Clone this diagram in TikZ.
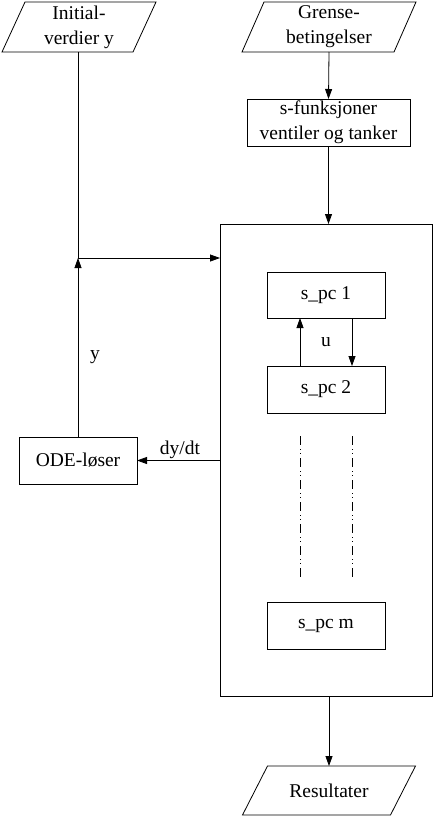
\documentclass[tikz,border=0pt]{standalone}
\usepackage{fontspec}
\setmainfont{Liberation Serif}
\usetikzlibrary{arrows.meta}
\begin{document}
\begin{tikzpicture}[x=1pt,y=-1pt,
  every node/.style={font=\fontsize{19.5}{25}\selectfont, align=center, inner sep=0pt, outer sep=0pt},
  box/.style={draw, line width=0.8pt},
  iobox/.style={},
  conn/.style={line width=0.8pt},
  arr/.style={conn, -{Triangle[length=10pt,width=7pt]}},
  dashdot/.style={line width=0.8pt, dash pattern=on 9pt off 4pt on 1pt off 3pt on 1pt off 4pt}]
\useasboundingbox (0,0) rectangle (433,817);
% input/output parallelograms (text nodes + outlines)
\node[iobox, minimum width=131pt, minimum height=50pt] (init) at (79,27) {Initial-\\verdier y};
\node[iobox, minimum width=152pt, minimum height=50pt] (grense) at (329,27) {Grense-\\betingelser};
\node[iobox, minimum width=148pt, minimum height=49pt] (res) at (329,790.5) {Resultater};
\foreach \n/\s in {init/11.5, grense/11, res/12.5}{
  \draw[conn] ([xshift=-\s pt]\n.south west) -- ([xshift=-\s pt]\n.south east)
    -- ([xshift=\s pt]\n.north east) -- ([xshift=\s pt]\n.north west) -- cycle;
}
% boxes
\node[box, minimum width=163pt, minimum height=47pt] (sfun) at (328.5,122.5) {s-funksjoner\\ventiler og tanker};
\node[box, minimum width=212pt, minimum height=472pt] (core) at (326,460) {};
\node[box, minimum width=118pt, minimum height=47pt] (ode) at (78,460.5) {ODE-løser};
\node[box, minimum width=118pt, minimum height=46pt] (spc1) at (326,295) {s\_pc 1};
\node[box, minimum width=118pt, minimum height=47pt] (spc2) at (326,389.5) {s\_pc 2};
\node[box, minimum width=118pt, minimum height=47pt] (spcm) at (326,625.5) {s\_pc m};
% connectors
\draw[arr] (grense.south) -- (sfun.north);
\draw[arr] (sfun.south) -- (sfun.south |- core.north);
\coordinate (j) at (78,258);
\draw[conn] (init.south -| j) -- (j);
\draw[arr] (j) -- (j -| core.west);
\draw[arr] (ode.north) -- (j);
\node (ylab) at (95,357) {y};
\draw[arr] (ode.east -| core.west) -- (ode.east);
\node (dydt) at (180,450) {dy/dt};
\draw[arr] (spc2.north -| 300,0) -- (spc1.south -| 300,0);
\draw[arr] (spc1.south -| 352,0) -- (spc2.north -| 352,0);
\node (ulab) at (326,342) {u};
\coordinate (d1a) at (300,436); \coordinate (d1b) at (300,577);
\coordinate (d2a) at (352,436); \coordinate (d2b) at (352,577);
\draw[dashdot] (d1a) -- (d1b);
\draw[dashdot] (d2a) -- (d2b);
\draw[arr] (res.north |- core.south) -- (res.north);
\end{tikzpicture}
\end{document}
